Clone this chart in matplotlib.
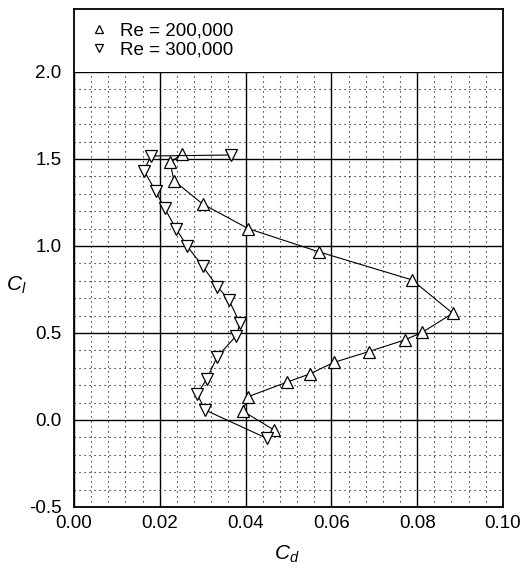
import matplotlib.pyplot as plt
from matplotlib.lines import Line2D
import numpy as np

plt.rcParams["font.family"] = ["Liberation Sans", "DejaVu Sans"]
plt.rcParams["mathtext.fontset"] = "custom"
plt.rcParams["mathtext.it"] = "Liberation Sans:italic"
plt.rcParams["mathtext.rm"] = "Liberation Sans"

# drag polar, Re = 200,000
cd_200k = [0.0466, 0.0393, 0.0406, 0.0497, 0.0549, 0.0606, 0.0687, 0.0771,
           0.0812, 0.0883, 0.0788, 0.0570, 0.0406, 0.0300, 0.0233, 0.0224, 0.0252]
cl_200k = [-0.057, 0.052, 0.134, 0.218, 0.264, 0.331, 0.393, 0.460,
           0.504, 0.613, 0.805, 0.967, 1.100, 1.241, 1.375, 1.480, 1.529]

# drag polar, Re = 300,000
cd_300k = [0.0449, 0.0306, 0.0287, 0.0309, 0.0334, 0.0378, 0.0387, 0.0361,
           0.0334, 0.0300, 0.0264, 0.0238, 0.0211, 0.0190, 0.0163, 0.0179, 0.0367]
cl_300k = [-0.105, 0.057, 0.148, 0.234, 0.364, 0.483, 0.556, 0.690,
           0.767, 0.883, 0.998, 1.098, 1.218, 1.316, 1.433, 1.517, 1.523]

xticks = np.arange(0, 0.101, 0.02)
yticks = np.arange(-0.5, 2.01, 0.5)

fig = plt.figure(figsize=(5.25, 5.69), dpi=100)
ax = fig.add_axes([0.141, 0.109, 0.817, 0.7645])
ax_leg = fig.add_axes([0.141, 0.8735, 0.817, 0.1107])

ax.set_xlim(0, 0.10)
ax.set_ylim(-0.5, 2.0)
ax.set_xticks(xticks)
ax.set_yticks(yticks)
ax.set_xticks(np.arange(0, 0.1001, 0.004), minor=True)
ax.set_yticks(np.arange(-0.5, 2.001, 0.1), minor=True)
ax.set_xticklabels([f"{v:.2f}" for v in xticks])
ax.set_yticklabels([f"{v:.1f}" for v in yticks])
ax.tick_params(which="both", length=0, labelsize=13.5)
ax.tick_params(axis="y", pad=9)
ax.tick_params(axis="x", pad=6)
ax.grid(which="minor", color="black", linestyle=(0, (1, 3.5)), linewidth=0.8)
ax.grid(which="major", color="black", linestyle="-", linewidth=1.0)
ax.set_axisbelow(True)
for s in ax.spines.values():
    s.set_linewidth(1.3)

mk = dict(markersize=8, markerfacecolor="white", markeredgecolor="black",
          markeredgewidth=0.9, color="black", linewidth=0.8)
ax.plot(cd_200k, cl_200k, marker="^", **mk)
ax.plot(cd_300k, cl_300k, marker="v", **mk)

ax.set_xlabel(r"$C_d$", fontsize=15)
ax.set_ylabel(r"$C_l$", fontsize=15, rotation=0)
ax.xaxis.set_label_coords(0.497, -0.085)
ax.yaxis.set_label_coords(-0.135, 0.485)

# legend panel above the grid
ax_leg.set_xticks([])
ax_leg.set_yticks([])
ax_leg.spines["bottom"].set_visible(False)
for s in ax_leg.spines.values():
    s.set_linewidth(1.3)
handles = [
    Line2D([], [], marker="^", linestyle="", markersize=6, markerfacecolor="white",
           markeredgecolor="black", markeredgewidth=0.9),
    Line2D([], [], marker="v", linestyle="", markersize=6, markerfacecolor="white",
           markeredgecolor="black", markeredgewidth=0.9),
]
ax_leg.legend(handles, ["Re = 200,000", "Re = 300,000"], loc="upper left",
              bbox_to_anchor=(0.02, 0.9), frameon=False, fontsize=13.5,
              handlelength=1.0, handletextpad=0.6, labelspacing=0.1,
              borderaxespad=0.0)

fig.savefig("out.png", dpi=100)
